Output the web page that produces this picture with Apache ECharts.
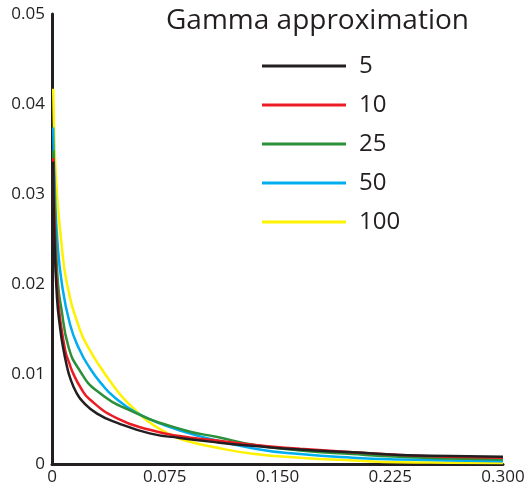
<!DOCTYPE html>
<html><head><meta charset="utf-8">
<script src="https://cdn.jsdelivr.net/npm/echarts@6/dist/echarts.min.js"></script>
<style>html,body{margin:0;padding:0;background:#fff}#c{width:529px;height:489px}</style>
</head><body><div id="c"></div>
<script>
const seriesNames = ['5', '10', '25', '50', '100'];
const colors = ['#231f20', '#ed1c24', '#2b9039', '#00aeef', '#fff200'];
const xTicks = ['0', '0.075', '0.150', '0.225', '0.300'];
const yTicks = ['0', '0.01', '0.02', '0.03', '0.04', '0.05'];

const x5 = [0.0008, 0.0015, 0.0033, 0.0055, 0.0073, 0.01, 0.012, 0.016, 0.0206, 0.03, 0.043, 0.065, 0.085, 0.11, 0.135, 0.165, 0.2, 0.2315, 0.265, 0.3];
const y5 = [0.0336, 0.026, 0.0185, 0.0150, 0.0130, 0.0108, 0.0096, 0.0080, 0.0069, 0.0056, 0.0046, 0.0034, 0.0029, 0.0024, 0.0020, 0.0016, 0.0013, 0.0010, 0.0009, 0.0008];

const x10 = [0.0008, 0.0018, 0.004, 0.0087, 0.0115, 0.014, 0.019, 0.025, 0.043, 0.065, 0.085, 0.11, 0.135, 0.165, 0.2, 0.2315, 0.265, 0.3];
const y10 = [0.034, 0.026, 0.0182, 0.0127, 0.0112, 0.0101, 0.0085, 0.0072, 0.0051, 0.0038, 0.0031, 0.0026, 0.0021, 0.0017, 0.0013, 0.0010, 0.0008, 0.0007];

const x25 = [0.0008, 0.0025, 0.004, 0.006, 0.011, 0.018, 0.03, 0.054, 0.087, 0.11, 0.135, 0.165, 0.2, 0.2315, 0.265, 0.3];
const y25 = [0.0348, 0.025, 0.020, 0.0175, 0.0130, 0.0105, 0.0081, 0.0058, 0.0038, 0.0030, 0.0021, 0.0015, 0.0011, 0.0008, 0.0006, 0.0005];

const x50 = [0.0008, 0.002, 0.0035, 0.0066, 0.012, 0.018, 0.025, 0.033, 0.041, 0.056, 0.075, 0.098, 0.135, 0.165, 0.2, 0.2315, 0.265, 0.3];
const y50 = [0.0374, 0.030, 0.025, 0.020, 0.0155, 0.0128, 0.0107, 0.0089, 0.0075, 0.0057, 0.0043, 0.0031, 0.0017, 0.0011, 0.0007, 0.0005, 0.0004, 0.0003];

const x100 = [0.0008, 0.0018, 0.0033, 0.006, 0.01, 0.0186, 0.025, 0.032, 0.04, 0.047, 0.056, 0.065, 0.076, 0.087, 0.11, 0.135, 0.165, 0.2, 0.2315, 0.265, 0.3];
const y100 = [0.0417, 0.035, 0.030, 0.025, 0.020, 0.0149, 0.0127, 0.0108, 0.0089, 0.0074, 0.0059, 0.0046, 0.0035, 0.0027, 0.0018, 0.0011, 0.0007, 0.0004, 0.0002, 0.00015, 0.0001];

const xs = [x5, x10, x25, x50, x100];
const ys = [y5, y10, y25, y50, y100];

const font = 'Open Sans';
const series = [];
for (let i = seriesNames.length - 1; i >= 0; i--) {
  series.push({
    name: seriesNames[i], type: 'line', smooth: 0.5, symbol: 'none',
    lineStyle: { color: colors[i], width: 2.5 },
    itemStyle: { color: colors[i] },
    data: xs[i].map((x, j) => [x, ys[i][j]])
  });
}

const chart = echarts.init(document.getElementById('c'));
chart.setOption({
  animation: false,
  textStyle: { fontFamily: font },
  title: {
    text: 'Gamma approximation', left: 161, top: 2,
    textStyle: { fontFamily: font, fontSize: 28, fontWeight: 'normal', color: '#231f20' }
  },
  legend: {
    data: seriesNames, orient: 'vertical', left: 257, top: 46,
    icon: 'rect', itemWidth: 84, itemHeight: 3, itemGap: 9,
    textStyle: { fontFamily: font, fontSize: 24, color: '#231f20', lineHeight: 30, padding: [0, 0, 0, 8] }
  },
  grid: { left: 52, right: 26, top: 14, bottom: 25, containLabel: false },
  xAxis: {
    type: 'value', min: 0, max: 0.3, interval: 0.075,
    axisLine: { lineStyle: { color: '#231f20', width: 3 } },
    axisTick: { show: false }, splitLine: { show: false },
    axisLabel: { color: '#231f20', fontSize: 17, margin: 5, formatter: (v, i) => xTicks[i] }
  },
  yAxis: {
    type: 'value', min: 0, max: 0.05, interval: 0.01,
    axisLine: { show: true, lineStyle: { color: '#231f20', width: 3 } },
    axisTick: { show: false }, splitLine: { show: false },
    axisLabel: { color: '#231f20', fontSize: 17, margin: 7, formatter: (v, i) => yTicks[i] }
  },
  series: series
});
</script></body></html>
